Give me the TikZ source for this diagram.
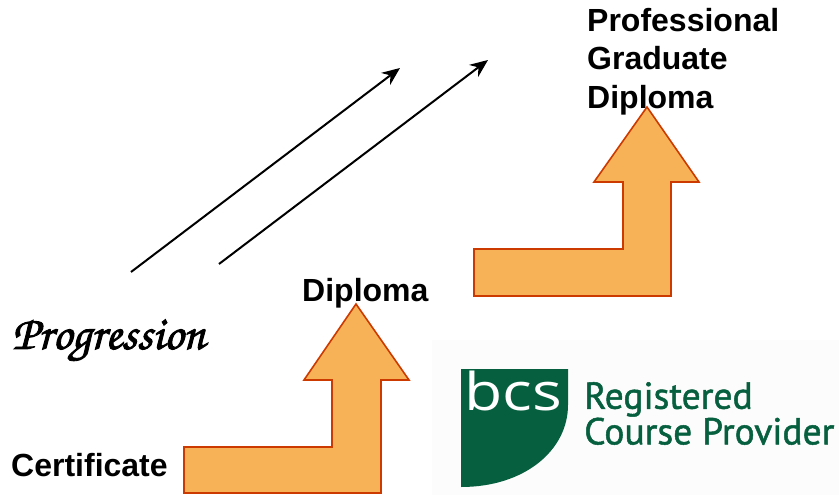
\documentclass[tikz,border=0pt]{standalone}
\usepackage{fontspec}
\setmainfont{Liberation Sans}
\newfontfamily\logofont{PT Sans}
\newfontfamily\bcsfont{Open Sans}
\usetikzlibrary{arrows.meta}
\definecolor{stepfill}{HTML}{F7B257}
\definecolor{stepline}{HTML}{CC3A00}
\definecolor{bcsgreen}{HTML}{06603F}
\newcommand{\heavytext}[2]{\special{pdf:literal direct 2 Tr #1 w}#2\special{pdf:literal direct 0 Tr}}
\tikzset{
 label text/.style={inner sep=0pt, anchor=base west, font=\bfseries\fontsize{32}{38.5}\selectfont},
 step arrow/.style={fill=stepfill, draw=stepline, line width=1.6pt, line join=miter},
 trend/.style={line width=2pt, -{Stealth[length=18pt,width=15pt]}},
}
\begin{document}
\begin{tikzpicture}[x=1pt,y=-1pt]
 \useasboundingbox (0,0) rectangle (839,495);
 % logo
 \fill[black!1] (432,340) rectangle (839,495);
 \fill[bcsgreen] (461,369) -- (568,369) -- (568,405)
  .. controls (568,450) and (525,487) .. (461,487) -- cycle;
 \node[inner sep=0pt, anchor=base west, text=white] (bcs) at (464,410)
  {\scalebox{1.2}[1]{\bcsfont\fontsize{52}{52}\selectfont bcs}};
 \node[inner sep=0pt, anchor=north west, align=left, text=bcsgreen,
  font=\logofont\fontsize{37.5}{33}\selectfont] (provider) at (584,382)
  {\heavytext{0.5}{Registered}\\\heavytext{0.5}{Course Provider}};
 % steps
 \draw[step arrow] (184,447) -- (332,447) -- (332,380) -- (304,380) -- (356,304)
  -- (409,380) -- (381,380) -- (381,493) -- (184,493) -- cycle;
 \draw[step arrow] (474,249) -- (623,249) -- (623,182) -- (594,182) -- (647,107)
  -- (699,182) -- (671,182) -- (671,296) -- (474,296) -- cycle;
 % labels
 \node[label text] (certificate) at (11,476) {Certificate};
 \node[label text] (diploma) at (302,301) {Diploma};
 \node[label text] (professional) at (587,32) {Professional};
 \node[label text] (graduate) at (587,70) {Graduate};
 \node[label text] (pgd) at (587,109) {Diploma};
 \node[inner sep=0pt, anchor=base west, font=\usefont{T1}{pzc}{mb}{it}\fontsize{48}{48}\selectfont] (progression) at (12,349) {\heavytext{0.9}{Progression}};
 % trend lines
 \coordinate (a1) at (131,272);
 \coordinate (a2) at (400,68);
 \coordinate (b1) at (219,264);
 \coordinate (b2) at (488,60);
 \draw[trend] (a1) -- (a2);
 \draw[trend] (b1) -- (b2);
\end{tikzpicture}
\end{document}
